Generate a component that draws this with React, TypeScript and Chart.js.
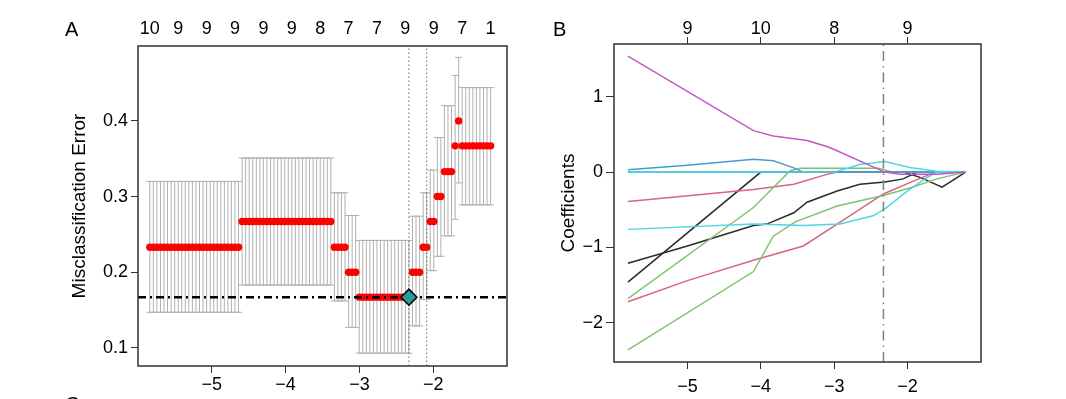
import React, { useEffect, useRef } from "react";
import { Chart, registerables } from "chart.js";

Chart.register(...registerables);

const FONT = '"Liberation Sans", Arial, Helvetica, sans-serif';

// ---------- Panel A: cross-validation curve ----------
const logLambdaA = [
  -5.840, -5.792, -5.744, -5.696, -5.648, -5.600, -5.551, -5.503, -5.455, -5.407,
  -5.359, -5.311, -5.263, -5.215, -5.167, -5.119, -5.070, -5.022, -4.974, -4.926,
  -4.878, -4.830, -4.782, -4.734, -4.686, -4.638, -4.589, -4.541, -4.493, -4.445,
  -4.397, -4.349, -4.301, -4.253, -4.205, -4.157, -4.108, -4.060, -4.012, -3.964,
  -3.916, -3.868, -3.820, -3.772, -3.724, -3.676, -3.627, -3.579, -3.531, -3.483,
  -3.435, -3.387, -3.339, -3.291, -3.243, -3.195, -3.146, -3.098, -3.050, -3.002,
  -2.954, -2.906, -2.858, -2.810, -2.762, -2.714, -2.665, -2.617, -2.569, -2.521,
  -2.473, -2.425, -2.377, -2.329, -2.281, -2.233, -2.184, -2.136, -2.088, -2.040,
  -1.992, -1.944, -1.896, -1.848, -1.800, -1.752, -1.703, -1.655, -1.607, -1.559,
  -1.511, -1.463, -1.415, -1.367, -1.319, -1.271, -1.222,
];
// runs of equal CV error along the lambda path
const runLength = [26, 26, 4, 3, 15, 3, 2, 2, 2, 3, 1, 1, 9];
const runMean = [0.233, 0.267, 0.233, 0.2, 0.167, 0.2, 0.233, 0.267, 0.3, 0.333, 0.367, 0.4, 0.367];
const runUpper = [0.32, 0.351, 0.305, 0.275, 0.242, 0.274, 0.305, 0.335, 0.378, 0.42, 0.46, 0.484, 0.444];
const runLower = [0.147, 0.183, 0.162, 0.127, 0.093, 0.129, 0.164, 0.202, 0.221, 0.248, 0.27, 0.318, 0.289];

const nzeroTopA = ["10", "9", "9", "9", "9", "9", "8", "7", "7", "9", "9", "7", "1"];
const nzeroTopAPos = [-5.84, -5.455, -5.07, -4.686, -4.301, -3.916, -3.531, -3.146, -2.762, -2.377, -1.992, -1.607, -1.222];
const xTicks = [-5, -4, -3, -2];
const yTicksA = [0.1, 0.2, 0.3, 0.4];
const lambdaMin = -2.329;
const lambda1se = -2.088;
const minError = 0.167;
const yRangeA = [0.076, 0.499];

// ---------- Panel B: coefficient paths ----------
const nzeroTopB = ["9", "10", "8", "9"];
const nzeroTopBPos = [-5, -4, -3, -2];
const yTicksB = [-2, -1, 0, 1];
const yRangeB = [-2.52, 1.7];

const pathMagenta = [[-5.81, 1.54], [-4.1, 0.55], [-3.83, 0.48], [-3.37, 0.42], [-3.1, 0.34], [-3.0, 0.3], [-2.31, 0.0], [-2.1, -0.03], [-1.6, -0.03], [-1.21, 0]];
const pathBlue1 = [[-5.81, 0.03], [-5.0, 0.09], [-4.1, 0.17], [-3.83, 0.15], [-3.56, 0.06], [-3.42, 0.0], [-1.21, 0]];
const pathBlue0 = [[-5.81, 0], [-1.21, 0]];
const pathBlack1 = [[-5.81, -1.46], [-4.0, 0], [-2.06, 0], [-1.83, -0.07], [-1.53, -0.2], [-1.21, 0]];
const pathBlack2 = [[-5.81, -1.21], [-5.0, -0.98], [-4.1, -0.71], [-3.92, -0.69], [-3.55, -0.54], [-3.37, -0.4], [-2.96, -0.25], [-2.65, -0.16], [-2.31, -0.13], [-2.06, -0.09], [-1.87, 0], [-1.21, 0]];
const pathPink1 = [[-5.81, -0.39], [-4.1, -0.23], [-3.55, -0.16], [-3.1, -0.03], [-2.96, 0], [-1.21, 0]];
const pathPink2 = [[-5.81, -1.72], [-5.0, -1.44], [-4.1, -1.17], [-3.42, -0.98], [-2.96, -0.69], [-2.33, -0.29], [-1.97, -0.14], [-1.65, -0.01], [-1.6, 0], [-1.21, 0]];
const pathGreen1 = [[-5.81, -1.68], [-4.1, -0.47], [-3.6, 0.02], [-3.46, 0.05], [-2.4, 0.05], [-2.2, 0], [-1.21, 0]];
const pathGreen2 = [[-5.81, -2.36], [-4.1, -1.32], [-3.83, -0.85], [-3.53, -0.66], [-2.96, -0.45], [-2.33, -0.31], [-1.97, -0.21], [-1.6, -0.09], [-1.21, 0]];
const pathCyan1 = [[-5.81, -0.76], [-4.1, -0.69], [-3.42, -0.71], [-2.92, -0.69], [-2.47, -0.58], [-2.3, -0.48], [-2.0, -0.25], [-1.75, -0.08], [-1.6, 0], [-1.21, 0]];
const pathCyan2 = [[-5.81, 0], [-3.0, 0], [-2.65, 0.1], [-2.31, 0.14], [-1.97, 0.06], [-1.6, 0.01], [-1.21, 0]];

const C_BLACK = "#2b2b2b";
const C_PINK = "#d9647e";
const C_GREEN = "#7dc46f";
const C_BLUE = "#4a9ad4";
const C_CYAN = "#4fd6e2";
const C_MAGENTA = "#c457c4";

function expandRuns(vals: number[]) {
  const out: number[] = [];
  runLength.forEach((n, k) => {
    for (let j = 0; j < n; j++) out.push(vals[k]);
  });
  return out;
}

const fmtMinus = (v: any) => {
  const n = Number(v);
  return n < 0 ? "\u2212" + Math.abs(n) : String(n);
};

const tickFont = { size: 18, family: FONT, lineHeight: 1 };
const titleFont = { size: 19, family: FONT };

const boxPlugin = {
  id: "boxFrame",
  afterDatasetsDraw(chart: any) {
    const { ctx, chartArea: a } = chart;
    ctx.save();
    ctx.strokeStyle = "#333";
    ctx.lineWidth = 1.5;
    ctx.strokeRect(a.left, a.top, a.right - a.left, a.bottom - a.top);
    ctx.restore();
  },
};

function makeErrorBarPlugin(xs: number[], up: number[], lo: number[]) {
  return {
    id: "cvErrorBars",
    beforeDatasetsDraw(chart: any) {
      const { ctx } = chart;
      const sx = chart.scales.x;
      const sy = chart.scales.y;
      ctx.save();
      ctx.strokeStyle = "#b0b0b0";
      ctx.lineWidth = 1;
      for (let i = 0; i < xs.length; i++) {
        const px = sx.getPixelForValue(xs[i]);
        const t = sy.getPixelForValue(up[i]);
        const b = sy.getPixelForValue(lo[i]);
        ctx.beginPath();
        ctx.moveTo(px, t);
        ctx.lineTo(px, b);
        ctx.moveTo(px - 3.5, t);
        ctx.lineTo(px + 3.5, t);
        ctx.moveTo(px - 3.5, b);
        ctx.lineTo(px + 3.5, b);
        ctx.stroke();
      }
      ctx.restore();
    },
  };
}

function setTicks(values: number[]) {
  return (s: any) => {
    s.ticks = values.map((v) => ({ value: v }));
  };
}

export default function App() {
  const refA = useRef<HTMLCanvasElement | null>(null);
  const refB = useRef<HTMLCanvasElement | null>(null);

  useEffect(() => {
    const meanA = expandRuns(runMean);
    const upA = expandRuns(runUpper);
    const loA = expandRuns(runLower);

    const chartA = new Chart(refA.current as HTMLCanvasElement, {
      type: "scatter",
      data: {
        datasets: [
          {
            label: "lambda.min",
            data: [{ x: lambdaMin, y: minError }],
            pointStyle: "rectRot",
            pointRadius: 8,
            backgroundColor: "#2b9c98",
            borderColor: "#000",
            borderWidth: 1.5,
            order: 1,
          } as any,
          {
            label: "min line",
            data: [{ x: -6, y: minError }, { x: -1, y: minError }],
            showLine: true,
            borderColor: "#000",
            borderWidth: 2.5,
            borderDash: [8, 4, 2, 4],
            pointRadius: 0,
            order: 2,
          },
          {
            label: "vmin",
            data: [{ x: lambdaMin, y: yRangeA[0] }, { x: lambdaMin, y: yRangeA[1] }],
            showLine: true,
            borderColor: "#666",
            borderWidth: 1,
            borderDash: [1.5, 2.5],
            pointRadius: 0,
            order: 2,
          },
          {
            label: "v1se",
            data: [{ x: lambda1se, y: yRangeA[0] }, { x: lambda1se, y: yRangeA[1] }],
            showLine: true,
            borderColor: "#666",
            borderWidth: 1,
            borderDash: [1.5, 2.5],
            pointRadius: 0,
            order: 2,
          },
          {
            label: "cv error",
            data: logLambdaA.map((x, i) => ({ x, y: meanA[i] })),
            pointRadius: 3.7,
            backgroundColor: "#ff0000",
            borderWidth: 0,
            order: 3,
          },
        ],
      },
      options: {
        animation: false,
        responsive: false,
        maintainAspectRatio: false,
        layout: { padding: { left: 64, right: 26, top: 0, bottom: 0 } },
        plugins: { legend: { display: false }, tooltip: { enabled: false } },
        scales: {
          x: {
            type: "linear",
            position: "bottom",
            min: -6,
            max: -1,
            afterBuildTicks: setTicks(xTicks),
            afterFit: (s: any) => {
              s.height = 33;
            },
            grid: { drawOnChartArea: false, drawTicks: true, tickLength: 7, color: "#333" },
            border: { display: false },
            ticks: { font: tickFont, color: "#000", padding: 3, maxRotation: 0, autoSkip: false, callback: fmtMinus },
          },
          xTop: {
            type: "linear",
            position: "top",
            axis: "x",
            min: -6,
            max: -1,
            afterBuildTicks: setTicks(nzeroTopAPos),
            afterFit: (s: any) => {
              s.height = 46;
            },
            grid: { display: false, drawTicks: false },
            border: { display: false },
            ticks: {
              font: tickFont,
              color: "#000",
              padding: 8,
              maxRotation: 0,
              autoSkip: false,
              callback: (_v: any, i: number) => nzeroTopA[i],
            },
          } as any,
          y: {
            type: "linear",
            min: yRangeA[0],
            max: yRangeA[1],
            afterBuildTicks: setTicks(yTicksA),
            afterFit: (s: any) => {
              s.width = 74;
            },
            grid: { drawOnChartArea: false, tickLength: 7, color: "#333" },
            border: { display: false },
            ticks: { font: tickFont, color: "#000", padding: 3, callback: (v: any) => Number(v).toFixed(1) },
            title: { display: true, text: "Misclassification Error", font: titleFont, color: "#000", padding: { top: 4, bottom: 0 } },
          },
        },
      },
      plugins: [makeErrorBarPlugin(logLambdaA, upA, loA), boxPlugin],
    } as any);

    const pathSet = [
      { d: pathBlack1, c: C_BLACK },
      { d: pathBlack2, c: C_BLACK },
      { d: pathPink1, c: C_PINK },
      { d: pathPink2, c: C_PINK },
      { d: pathGreen1, c: C_GREEN },
      { d: pathGreen2, c: C_GREEN },
      { d: pathBlue0, c: C_BLUE },
      { d: pathBlue1, c: C_BLUE },
      { d: pathCyan1, c: C_CYAN },
      { d: pathCyan2, c: C_CYAN },
      { d: pathMagenta, c: C_MAGENTA },
    ];

    const chartB = new Chart(refB.current as HTMLCanvasElement, {
      type: "scatter",
      data: {
        datasets: [
          {
            label: "lambda.min",
            data: [{ x: lambdaMin, y: yRangeB[0] }, { x: lambdaMin, y: yRangeB[1] }],
            showLine: true,
            borderColor: "#808080",
            borderWidth: 1.5,
            borderDash: [10, 5, 1.5, 5],
            pointRadius: 0,
            order: 0,
          },
          ...pathSet.map((p, k) => ({
            label: "coef " + k,
            data: p.d.map(([x, y]) => ({ x, y })),
            showLine: true,
            borderColor: p.c,
            borderWidth: 1.5,
            pointRadius: 0,
            order: 20 - k,
          })),
        ],
      },
      options: {
        animation: false,
        responsive: false,
        maintainAspectRatio: false,
        layout: { padding: { left: 20, right: 85, top: 0, bottom: 0 } },
        plugins: { legend: { display: false }, tooltip: { enabled: false } },
        scales: {
          x: {
            type: "linear",
            position: "bottom",
            min: -6,
            max: -1,
            afterBuildTicks: setTicks(xTicks),
            afterFit: (s: any) => {
              s.height = 37;
            },
            grid: { drawOnChartArea: false, drawTicks: true, tickLength: 7, color: "#333" },
            border: { display: false },
            ticks: { font: tickFont, color: "#000", padding: 9.5, maxRotation: 0, autoSkip: false, callback: fmtMinus },
          },
          xTop: {
            type: "linear",
            position: "top",
            axis: "x",
            min: -6,
            max: -1,
            afterBuildTicks: setTicks(nzeroTopBPos),
            afterFit: (s: any) => {
              s.height = 44;
            },
            grid: { drawOnChartArea: false, drawTicks: true, tickLength: 7, color: "#333" },
            border: { display: false },
            ticks: {
              font: tickFont,
              color: "#000",
              padding: -1.5,
              maxRotation: 0,
              autoSkip: false,
              callback: (_v: any, i: number) => nzeroTopB[i],
            },
          } as any,
          y: {
            type: "linear",
            min: yRangeB[0],
            max: yRangeB[1],
            afterBuildTicks: setTicks(yTicksB),
            afterFit: (s: any) => {
              s.width = 61;
            },
            grid: { drawOnChartArea: false, tickLength: 8, color: "#333" },
            border: { display: false },
            ticks: { font: tickFont, color: "#000", padding: 3, callback: fmtMinus },
            title: { display: true, text: "Coefficients", font: titleFont, color: "#000", padding: { top: 4, bottom: 0 } },
          },
        },
      },
      plugins: [boxPlugin],
    } as any);

    return () => {
      chartA.destroy();
      chartB.destroy();
    };
  }, []);

  const panelLabel: React.CSSProperties = {
    position: "absolute",
    fontFamily: FONT,
    fontSize: 20,
    lineHeight: "24px",
    color: "#000",
  };

  return (
    <div
      style={{
        position: "fixed",
        left: 0,
        top: 0,
        width: 1066,
        height: 399,
        overflow: "hidden",
        background: "#fff",
      }}
    >
      <canvas ref={refA} width={533} height={399} style={{ position: "absolute", left: 0, top: 0, width: 533, height: 399 }} />
      <canvas ref={refB} width={533} height={399} style={{ position: "absolute", left: 533, top: 0, width: 533, height: 399 }} />
      <div style={{ ...panelLabel, left: 65, top: 17 }}>A</div>
      <div style={{ ...panelLabel, left: 553, top: 17 }}>B</div>
      <div style={{ ...panelLabel, left: 65, top: 392 }}>C</div>
    </div>
  );
}
